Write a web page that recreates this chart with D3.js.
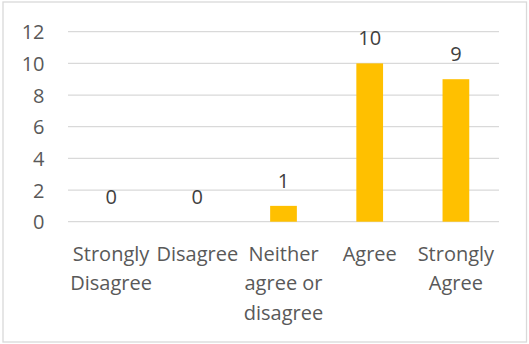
<!DOCTYPE html>
<html>
<head>
<meta charset="utf-8">
<script src="https://cdn.jsdelivr.net/npm/d3@7"></script>
<style>
  html, body { margin: 0; padding: 0; background: #fff; }
  svg { display: block; }
</style>
</head>
<body>
<svg id="chart" width="529" height="344"></svg>
<script>
const categories = ["Strongly Disagree", "Disagree", "Neither agree or disagree", "Agree", "Strongly Agree"];
const values = [0, 0, 1, 10, 9];
const yTicks = [0, 2, 4, 6, 8, 10, 12];

const W = 529, H = 344;
const font = "'Open Sans', sans-serif";
const svg = d3.select("#chart");

// outer border
svg.append("rect")
  .attr("x", 3).attr("y", 2)
  .attr("width", 523.5).attr("height", 340)
  .attr("fill", "#fff")
  .attr("stroke", "#D9D9D9").attr("stroke-width", 1.3);

const x = d3.scaleBand()
  .domain(categories)
  .range([68, 499])
  .paddingInner(0.69)
  .paddingOuter(0.345);

const y = d3.scaleLinear().domain([0, 12]).range([221.7, 31.7]);

// gridlines
svg.append("g").selectAll("line").data(yTicks).join("line")
  .attr("x1", 68).attr("x2", 499)
  .attr("y1", d => y(d)).attr("y2", d => y(d))
  .attr("stroke", "#D9D9D9").attr("stroke-width", 1.3);

// y axis labels
const yAxis = d3.axisLeft(y).tickValues(yTicks).tickSize(0).tickPadding(0);
const gy = svg.append("g").attr("transform", "translate(44.5,0)").call(yAxis);
gy.select(".domain").remove();
gy.selectAll("text")
  .attr("font-family", font).attr("font-size", 20)
  .attr("fill", "#595959").attr("dy", "0.36em");

// bars
svg.append("g").selectAll("rect").data(values).join("rect")
  .attr("x", (d, i) => x(categories[i]))
  .attr("y", d => y(d))
  .attr("width", x.bandwidth())
  .attr("height", d => y(0) - y(d))
  .attr("fill", "#FFC000");

// data labels
svg.append("g").selectAll("text").data(values).join("text")
  .attr("x", (d, i) => x(categories[i]) + x.bandwidth() / 2)
  .attr("y", d => y(d) - 18)
  .attr("text-anchor", "middle")
  .attr("font-family", font).attr("font-size", 20)
  .attr("fill", "#404040")
  .text(d => d);

// x axis labels
const xAxis = d3.axisBottom(x).tickSize(0).tickPadding(0);
const gx = svg.append("g").attr("transform", "translate(0,0)").call(xAxis);
gx.select(".domain").remove();
const maxW = x.step();
gx.selectAll("text").each(function(d) {
  const t = d3.select(this);
  t.text(null).attr("font-family", font).attr("font-size", 20).attr("fill", "#595959")
    .attr("y", 260.7).attr("dy", null);
  const words = d.split(" ");
  let lines = [], cur = "";
  const probe = svg.append("text").attr("font-family", font).attr("font-size", 20);
  words.forEach(w => {
    const test = cur ? cur + " " + w : w;
    probe.text(test);
    if (probe.node().getComputedTextLength() > maxW && cur) {
      lines.push(cur); cur = w;
    } else cur = test;
  });
  lines.push(cur);
  probe.remove();
  lines.forEach((ln, i) => {
    t.append("tspan").attr("x", 0).attr("y", 260.7 + i * 29.7).text(ln);
  });
});
</script>
</body>
</html>
